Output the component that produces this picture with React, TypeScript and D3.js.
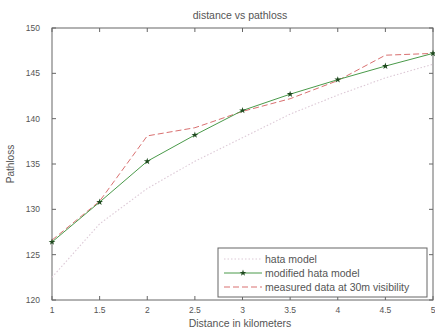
import React, { useEffect, useRef } from 'react';
import * as d3 from 'd3';

// distance in km
const distances = [1, 1.5, 2, 2.5, 3, 3.5, 4, 4.5, 5];
const hataModel = [122.5, 128.4, 132.3, 135.3, 137.9, 140.5, 142.6, 144.5, 146.0];
const modifiedHata = [126.4, 130.8, 135.3, 138.2, 140.9, 142.7, 144.3, 145.8, 147.2];
const measured30m = [126.6, 130.9, 138.1, 139.0, 140.8, 142.2, 144.2, 147.0, 147.2];

const xTicks = [1, 1.5, 2, 2.5, 3, 3.5, 4, 4.5, 5];
const xTickLabels = ['1', '1.5', '2', '2.5', '3', '3.5', '4', '4.5', '5'];
const yTicks = [120, 125, 130, 135, 140, 145, 150];

const W = 435;
const H = 333;

const App = () => {
  const svgRef = useRef<SVGSVGElement>(null);

  useEffect(() => {
    const svg = d3.select(svgRef.current);
    svg.selectAll('*').remove();

    const left = 52, right = 433, top = 28, bottom = 300;
    const x = d3.scaleLinear().domain([1, 5]).range([left, right]);
    const y = d3.scaleLinear().domain([120, 150]).range([bottom, top]);
    const font = 'Liberation Sans, Arial, sans-serif';
    const textColor = '#555';
    const axisColor = '#666';

    svg.append('rect').attr('width', W).attr('height', H).attr('fill', '#fff');

    // plot box
    svg.append('rect')
      .attr('x', left).attr('y', top)
      .attr('width', right - left).attr('height', bottom - top)
      .attr('fill', '#fff').attr('stroke', axisColor).attr('stroke-width', 1);

    // ticks (inward, all four sides)
    const tl = 4;
    xTicks.forEach((t, i) => {
      const px = x(t);
      svg.append('line').attr('x1', px).attr('x2', px).attr('y1', bottom).attr('y2', bottom - tl).attr('stroke', axisColor);
      svg.append('line').attr('x1', px).attr('x2', px).attr('y1', top).attr('y2', top + tl).attr('stroke', axisColor);
      svg.append('text').attr('x', px).attr('y', bottom + 13)
        .attr('text-anchor', 'middle').attr('font-family', font).attr('font-size', 8.5)
        .attr('fill', textColor).text(xTickLabels[i]);
    });
    yTicks.forEach(t => {
      const py = y(t);
      svg.append('line').attr('x1', left).attr('x2', left + tl).attr('y1', py).attr('y2', py).attr('stroke', axisColor);
      svg.append('line').attr('x1', right).attr('x2', right - tl).attr('y1', py).attr('y2', py).attr('stroke', axisColor);
      svg.append('text').attr('x', left - 12).attr('y', py + 3)
        .attr('text-anchor', 'end').attr('font-family', font).attr('font-size', 8.5)
        .attr('fill', textColor).text(t);
    });

    const line = d3.line<number>()
      .x((_, i) => x(distances[i]))
      .y(d => y(d));

    // hata model: light dotted
    svg.append('path').datum(hataModel).attr('d', line)
      .attr('fill', 'none').attr('stroke', '#dcc9d6').attr('stroke-width', 1.1)
      .attr('stroke-dasharray', '1.5,2');

    // measured: red dashed
    svg.append('path').datum(measured30m).attr('d', line)
      .attr('fill', 'none').attr('stroke', '#d97070').attr('stroke-width', 1)
      .attr('stroke-dasharray', '6,3');

    // modified hata: green with star markers
    svg.append('path').datum(modifiedHata).attr('d', line)
      .attr('fill', 'none').attr('stroke', '#4a9a4a').attr('stroke-width', 1);
    const star = d3.symbol().type(d3.symbolStar).size(14);
    svg.selectAll('.mk').data(modifiedHata).enter().append('path')
      .attr('class', 'mk')
      .attr('transform', (d, i) => `translate(${x(distances[i])},${y(d)})`)
      .attr('d', star)
      .attr('fill', '#1f4a1f');

    // title + labels
    svg.append('text').attr('x', 240).attr('y', 19)
      .attr('text-anchor', 'middle').attr('font-family', font).attr('font-size', 10.5)
      .attr('fill', textColor).text('distance vs pathloss');
    svg.append('text').attr('x', 240).attr('y', 327)
      .attr('text-anchor', 'middle').attr('font-family', font).attr('font-size', 10.5)
      .attr('fill', textColor).text('Distance in kilometers');
    svg.append('text').attr('transform', `translate(14,${(top + bottom) / 2}) rotate(-90)`)
      .attr('text-anchor', 'middle').attr('font-family', font).attr('font-size', 10)
      .attr('fill', textColor).text('Pathloss');

    // legend
    const lx = 218, ly = 248, lw = 209, lh = 49;
    const lg = svg.append('g');
    lg.append('rect').attr('x', lx).attr('y', ly).attr('width', lw).attr('height', lh)
      .attr('fill', '#fff').attr('stroke', axisColor);
    const items = [
      { label: 'hata model', color: '#dcc9d6', dash: '1.5,2', marker: false },
      { label: 'modified hata model', color: '#4a9a4a', dash: null, marker: true },
      { label: 'measured data at 30m visibility', color: '#d97070', dash: '6,3', marker: false },
    ];
    items.forEach((it, i) => {
      const yy = ly + 11 + i * 14;
      lg.append('line').attr('x1', lx + 6).attr('x2', lx + 44).attr('y1', yy).attr('y2', yy)
        .attr('stroke', it.color).attr('stroke-width', 1)
        .attr('stroke-dasharray', it.dash);
      if (it.marker) {
        lg.append('path').attr('transform', `translate(${lx + 25},${yy})`).attr('d', star).attr('fill', '#1f4a1f');
      }
      lg.append('text').attr('x', lx + 47).attr('y', yy + 3.5)
        .attr('font-family', font).attr('font-size', 10.5).attr('fill', textColor).text(it.label);
    });
  }, []);

  return (
    <svg ref={svgRef} width={W} height={H}
      style={{ position: 'absolute', left: 0, top: 0, display: 'block' }} />
  );
};

export default App;
